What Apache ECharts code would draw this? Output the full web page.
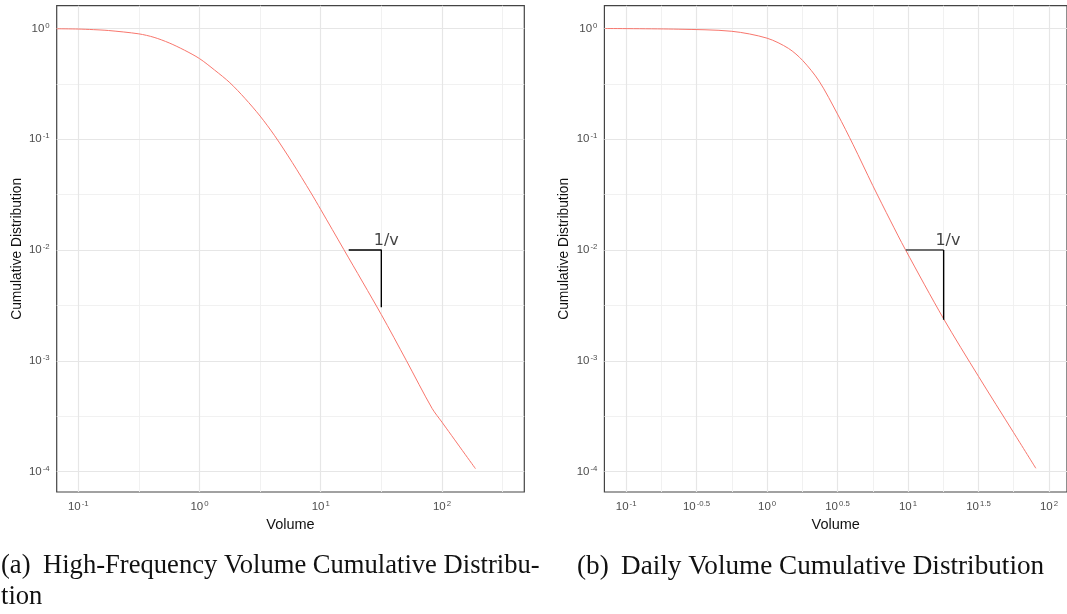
<!DOCTYPE html>
<html>
<head>
<meta charset="utf-8">
<script src="https://cdn.jsdelivr.net/npm/echarts@6/dist/echarts.min.js"></script>
<style>html,body{margin:0;padding:0;background:#fff;}#c{width:1067px;height:614px;}</style>
</head>
<body>
<div id="c"></div>
<script>
// ---- data ----
// (a) High-frequency volume cumulative distribution
const hfVolume = [0.0664, 0.1, 0.133, 0.178, 0.316, 0.422, 0.562, 0.75, 1.0, 1.33, 1.78, 2.37, 3.16, 4.17, 5.82, 8.32, 10, 15.5, 31.6, 50.7, 82.8, 100, 189];
const hfCdf    = [0.995, 0.989, 0.977, 0.959, 0.895, 0.832, 0.741, 0.638, 0.535, 0.422, 0.324, 0.234, 0.162, 0.1076, 0.0618, 0.0327, 0.0232, 0.0101, 0.00261, 0.00101, 0.000372, 0.000279, 0.000106];
// (b) Daily volume cumulative distribution
const dailyVolume = [0.0711, 0.234, 0.562, 1.0, 1.42, 1.79, 2.34, 3.16, 4.08, 5.62, 7.52, 9.55, 17.9, 31.6, 56.2, 80.7];
const dailyCdf    = [1.0, 0.986, 0.944, 0.818, 0.661, 0.514, 0.335, 0.169, 0.0893, 0.0383, 0.0183, 0.01016, 0.00239, 0.000724, 0.000224, 0.000107];
// slope annotations (volume, cdf)
const hfSlopeVolume = [17.0, 31.6, 31.6];
const hfSlopeCdf    = [0.01, 0.01, 0.00305];
const dailySlopeVolume = [9.64, 17.9, 17.9];
const dailySlopeCdf    = [0.01, 0.01, 0.00234];
const slopeText = '1/v';
const hfSlopeTextAt = [34.7, 0.01];
const dailySlopeTextAt = [19.2, 0.01];
// tick exponents (labels are 10^k)
const hfXMajor = [-1, 0, 1, 2];
const hfXMinor = [-0.5, 0.5, 1.5, 2.5];
const dailyXMajor = [-1, -0.5, 0, 0.5, 1, 1.5, 2];
const dailyXMinor = [-0.75, -0.25, 0.25, 0.75, 1.25, 1.75];
const yMajor = [0, -1, -2, -3, -4];
const yMinor = [-0.5, -1.5, -2.5, -3.5];
const hfXRange = [-1.178, 2.679];
const dailyXRange = [-1.154, 2.128];
const yRange = [-4.185, 0.206];
const xTitle = 'Volume';
const yTitle = 'Cumulative Distribution';
const captionA1 = '(a)';
const captionA2 = 'High-Frequency Volume Cumulative Distribu-';
const captionA3 = 'tion';
const captionB1 = '(b)';
const captionB2 = 'Daily Volume Cumulative Distribution';

// ---- build ----
const L = Math.log10;
const pairs = (xs, ys) => xs.map((x, i) => [L(x), L(ys[i])]);
const tickColor = '#4d4d4d';
const rich = {
  b: {fontSize: 11.5, color: tickColor, fontFamily: 'Liberation Sans', lineHeight: 14},
  s: {fontSize: 7.8, color: tickColor, fontFamily: 'Liberation Sans', lineHeight: 8, verticalAlign: 'top', padding: [0, 0, 0, 1]}
};
function fmt(v) {
  const e = Math.round(v * 2) / 2;
  const s = (e === Math.round(e)) ? String(e) : e.toFixed(1);
  return '{b|10}{s|' + s + '}';
}
function xAxis(gi, range, major) {
  return {
    type: 'value', gridIndex: gi, min: range[0], max: range[1],
    axisLine: {show: false},
    splitLine: {show: false},
    axisTick: {show: true, length: 4, lineStyle: {color: '#333', width: 1}, customValues: major},
    axisLabel: {customValues: major, formatter: fmt, rich: rich, margin: 8},
    name: xTitle, nameLocation: 'middle', nameGap: 25,
    nameTextStyle: {fontFamily: 'Liberation Sans', fontSize: 14.5, color: '#111'}
  };
}
function yAxis(gi) {
  return {
    type: 'value', gridIndex: gi, min: yRange[0], max: yRange[1],
    axisLine: {show: false},
    splitLine: {show: false},
    axisTick: {show: true, length: 4, lineStyle: {color: '#333', width: 1}, customValues: yMajor},
    axisLabel: {customValues: yMajor, formatter: fmt, rich: rich, margin: 7},
    name: yTitle, nameLocation: 'middle', nameGap: 33, nameRotate: 90,
    nameTextStyle: {fontFamily: 'Liberation Sans', fontSize: 13.8, color: '#111'}
  };
}
function gridSeries(gi, xMaj, xMin) {
  const maj = {color: '#e6e6e6', width: 1.2, type: 'solid'};
  const min = {color: '#efefef', width: 0.9, type: 'solid'};
  const d = [];
  xMin.forEach(v => d.push({xAxis: v, lineStyle: min}));
  yMinor.forEach(v => d.push({yAxis: v, lineStyle: min}));
  xMaj.forEach(v => d.push({xAxis: v, lineStyle: maj}));
  yMajor.forEach(v => d.push({yAxis: v, lineStyle: maj}));
  return {
    type: 'line', xAxisIndex: gi, yAxisIndex: gi, data: [], silent: true, z: 1,
    markLine: {silent: true, z: 1, symbol: 'none', animation: false, label: {show: false}, emphasis: {disabled: true}, data: d}
  };
}
function curve(gi, xs, ys) {
  return {
    type: 'line', xAxisIndex: gi, yAxisIndex: gi, data: pairs(xs, ys), z: 3,
    showSymbol: false, smooth: 0.3,
    lineStyle: {color: '#F8766D', width: 1}, silent: true
  };
}
function seg(gi, pts, color, width) {
  return {
    type: 'line', xAxisIndex: gi, yAxisIndex: gi, data: pts, z: 4,
    showSymbol: false, lineStyle: {color: color, width: width, opacity: 1}, silent: true,
    emphasis: {disabled: true}
  };
}
function label(gi, at) {
  return {
    type: 'scatter', xAxisIndex: gi, yAxisIndex: gi, z: 5, symbolSize: 0.1, silent: true,
    data: [[L(at[0]), L(at[1])]],
    label: {show: true, position: 'top', distance: 1, formatter: slopeText,
      fontFamily: 'DejaVu Sans', fontSize: 16, color: '#111'},
    itemStyle: {color: 'rgba(0,0,0,0)'}
  };
}
const hfSlope = pairs(hfSlopeVolume, hfSlopeCdf);
const dSlope = pairs(dailySlopeVolume, dailySlopeCdf);

const chart = echarts.init(document.getElementById('c'), null, {renderer: 'canvas'});
const capA = {fontFamily: 'Liberation Serif', fontSize: 26.6, fill: '#111'};
const capB = {fontFamily: 'Liberation Serif', fontSize: 27.2, fill: '#111'};
chart.setOption({
  animation: false,
  backgroundColor: '#fff',
  grid: [
    {left: 56.7, right: 1067 - 524.3, top: 5.7, bottom: 122, show: true, borderColor: '#444', borderWidth: 1.2, backgroundColor: '#fff'},
    {left: 604.4, right: -6, top: 5.7, bottom: 122, show: true, borderColor: '#444', borderWidth: 1.2, backgroundColor: '#fff'}
  ],
  xAxis: [xAxis(0, hfXRange, hfXMajor), xAxis(1, dailyXRange, dailyXMajor)],
  yAxis: [yAxis(0), yAxis(1)],
  series: [
    gridSeries(0, hfXMajor, hfXMinor),
    gridSeries(1, dailyXMajor, dailyXMinor),
    curve(0, hfVolume, hfCdf),
    curve(1, dailyVolume, dailyCdf),
    seg(0, hfSlope, '#000', 1.4),
    seg(1, dSlope.slice(0, 2), '#6e6e6e', 2),
    seg(1, dSlope.slice(1), '#000', 1.4),
    label(0, hfSlopeTextAt),
    label(1, dailySlopeTextAt)
  ],
  graphic: [
    {type: 'text', left: 1, top: 553, style: Object.assign({text: captionA1}, capA)},
    {type: 'text', left: 43, top: 553, style: Object.assign({text: captionA2}, capA)},
    {type: 'text', left: 1, top: 584, style: Object.assign({text: captionA3}, capA)},
    {type: 'text', left: 577, top: 553, style: Object.assign({text: captionB1}, capB)},
    {type: 'text', left: 621, top: 553, style: Object.assign({text: captionB2}, capB)}
  ]
});
</script>
</body>
</html>
